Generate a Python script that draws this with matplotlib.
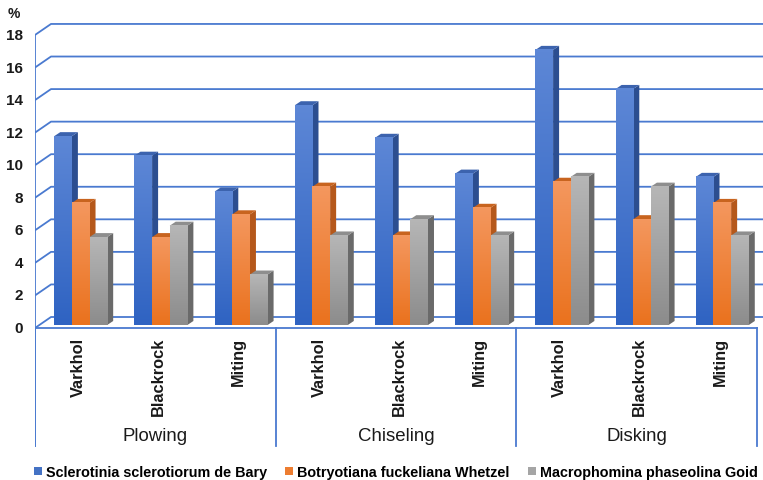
import matplotlib
matplotlib.use("Agg")
import matplotlib.pyplot as plt
from matplotlib.patches import Polygon, Patch
from matplotlib.colors import LinearSegmentedColormap
import numpy as np

plt.rcParams['font.family'] = ['Liberation Sans', 'DejaVu Sans']

groups = ["Plowing", "Chiseling", "Disking"]
sites = ["Varkhol", "Blackrock", "Miting"]
series_names = ["Sclerotinia sclerotiorum de Bary",
                "Botryotiana fuckeliana Whetzel",
                "Macrophomina phaseolina Goid"]
sclerotinia = [11.6, 10.4, 8.2, 13.5, 11.5, 9.3, 16.9, 14.5, 9.1]
botryotiana = [7.5, 5.4, 6.8, 8.5, 5.5, 7.2, 8.8, 6.5, 7.5]
macrophomina = [5.4, 6.1, 3.1, 5.5, 6.5, 5.5, 9.1, 8.5, 5.5]
yticks = list(range(0, 19, 2))

series = [sclerotinia, botryotiana, macrophomina]
front_top = ["#5D87D6", "#F4975E", "#B6B6B6"]
front_bot = ["#2F63C2", "#EA721E", "#8C8C8C"]
side_col = ["#2C4E90", "#B5581B", "#6A6A6A"]
top_col = ["#3C63AE", "#C8641F", "#8E8E8E"]
legend_col = ["#4472C4", "#ED7D31", "#A5A5A5"]
grid_col = "#4A7AD0"
text_col = "#1a1a1a"

W, H = 763, 481
fig = plt.figure(figsize=(W / 100, H / 100), dpi=100)
ax_left, ax_right, ax_top, ax_bot = 35, 763, 20, 450
y0px = 329
pxu_x = 80.2
pxu_y = 16.28
ax = fig.add_axes([ax_left / W, (H - ax_bot) / H, (ax_right - ax_left) / W, (ax_bot - ax_top) / H])
xmax = (ax_right - ax_left) / pxu_x
ymax = (y0px - ax_top) / pxu_y
ymin = -(ax_bot - y0px) / pxu_y
ax.set_axis_off()

DX = 16 / pxu_x
DY = 11 / pxu_y
ncat = len(sclerotinia)
ngrp = len(groups)

# walls / gridlines
lw = 1.3
for v in yticks:
    ax.plot([0, DX, xmax + 1], [v, v + DY, v + DY], color=grid_col, lw=lw, zorder=1,
            solid_capstyle='butt')
    ax.text(-12 / pxu_x, v, str(v), ha='right', va='center', fontsize=11, fontweight='bold',
            color=text_col, clip_on=False)
fig.text(14 / W, 1 - 14 / H, "%", ha='center', va='center', fontsize=10, fontweight='bold',
         color=text_col)
ax.plot([0, 0], [max(yticks), ymin + 0.2], color=grid_col, lw=lw, zorder=1)
ax.plot([0, ncat], [0, 0], color=grid_col, lw=lw, zorder=1)
for g in range(ngrp + 1):
    ax.plot([g * 3, g * 3], [0, -118 / pxu_y], color=grid_col, lw=lw, zorder=1)

# bars
bw = 0.22
bdx = 6 / pxu_x
bdy = 4 / pxu_y
base = 3 / pxu_y
x = np.arange(ncat)
grad = np.linspace(0, 1, 64).reshape(-1, 1)
for k, vals in enumerate(series):
    cmap = LinearSegmentedColormap.from_list("g%d" % k, [front_bot[k], front_top[k]])
    xs = x + 0.35 + k * bw
    bars = ax.bar(xs, vals, width=bw, bottom=base, color=front_bot[k], zorder=3 + k * 0.1)
    for b in bars:
        xl, yb, w, h = b.get_x(), b.get_y(), b.get_width(), b.get_height()
        xr, yt = xl + w, yb + h
        zo = 2 + b.get_x()  # left-to-right ordering
        side = Polygon([[xr, yb], [xr + bdx, yb + bdy], [xr + bdx, yt + bdy], [xr, yt]],
                       closed=True, facecolor=side_col[k], edgecolor='none', zorder=zo)
        top = Polygon([[xl, yt], [xl + bdx, yt + bdy], [xr + bdx, yt + bdy], [xr, yt]],
                      closed=True, facecolor=top_col[k], edgecolor='none', zorder=zo + 0.01)
        ax.add_patch(side)
        ax.add_patch(top)
        b.set_zorder(zo + 0.02)
        ax.imshow(grad, extent=[xl, xr, yb, yt], origin='lower', cmap=cmap, aspect='auto',
                  zorder=zo + 0.03, interpolation='bilinear')

# category labels
for i in range(ncat):
    ax.text(i + 0.54, -9 / pxu_y, sites[i % 3], rotation=90, ha='center', va='top',
            fontsize=11.8, fontweight='bold', color=text_col)
for g in range(ngrp):
    ax.text(g * 3 + 1.5, -108 / pxu_y, groups[g], ha='center', va='center', fontsize=13.4,
            color=text_col)

ax.set_xlim(0, xmax)
ax.set_ylim(ymin, ymax)

handles = [Patch(facecolor=legend_col[k], edgecolor='none') for k in range(3)]
fig.legend(handles, series_names, loc='center', bbox_to_anchor=(396 / W, 1 - 473 / H), ncol=3,
           frameon=False, handlelength=0.55, handleheight=0.55, handletextpad=0.28,
           columnspacing=1.25, borderpad=0, prop={'size': 10.4, 'weight': 'bold'})

fig.savefig("out.png", dpi=100)
